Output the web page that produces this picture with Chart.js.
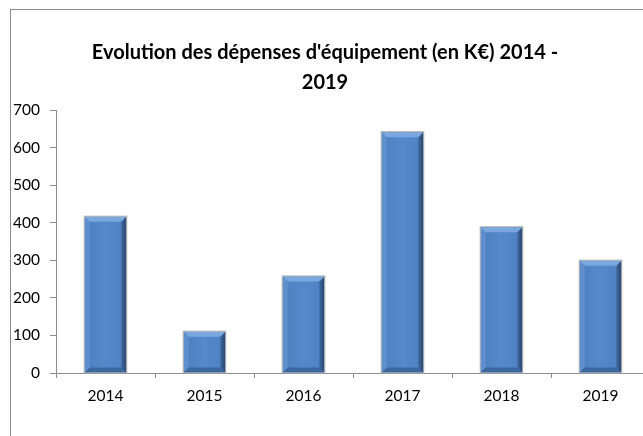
<!DOCTYPE html>
<html>
<head>
<meta charset="utf-8">
<script src="https://cdn.jsdelivr.net/npm/chart.js@4"></script>
<style>
  html, body { margin: 0; padding: 0; background: #fff; overflow: hidden; }
  body { width: 643px; height: 436px; position: relative; }
  #cadre { position: absolute; left: 10px; top: 9px; width: 700px; height: 500px;
           border-left: 1px solid #8c8c8c; border-top: 1px solid #8c8c8c; }
  #zone { position: absolute; left: 0; top: 0; width: 660px; height: 436px; }
</style>
</head>
<body>
<div id="cadre"></div>
<div id="zone"><canvas id="graphique"></canvas></div>
<script>
// Données
const annees = ['2014', '2015', '2016', '2017', '2018', '2019'];
const depenses = [416, 110, 257, 641, 388, 299];
const graduations = [0, 100, 200, 300, 400, 500, 600, 700];
const titre = ["Evolution des dépenses d'équipement (en K€) 2014 -", '2019'];

// Effet biseauté des barres (style Excel)
const biseau = {
    id: 'biseau',
    afterDatasetsDraw(chart) {
        const ctx = chart.ctx;
        chart.getDatasetMeta(0).data.forEach(bar => {
            const g = bar.x - bar.width / 2;
            const d = bar.x + bar.width / 2;
            const h = bar.y;
            const b = bar.base;
            const e = 5;
            ctx.save();
            // fond
            const grad = ctx.createLinearGradient(g, 0, d, 0);
            grad.addColorStop(0, '#4a7fc0');
            grad.addColorStop(0.5, '#5489cb');
            grad.addColorStop(1, '#4c80c2');
            ctx.fillStyle = grad;
            ctx.fillRect(g, h, d - g, b - h);
            // bord gauche clair
            ctx.fillStyle = '#5f8fcd';
            ctx.beginPath();
            ctx.moveTo(g, h); ctx.lineTo(g + e, h + e); ctx.lineTo(g + e, b - e); ctx.lineTo(g, b);
            ctx.closePath(); ctx.fill();
            // bord droit sombre
            const gd = ctx.createLinearGradient(d - e, 0, d, 0);
            gd.addColorStop(0, '#41699f');
            gd.addColorStop(1, '#2a4670');
            ctx.fillStyle = gd;
            ctx.beginPath();
            ctx.moveTo(d, h); ctx.lineTo(d - e, h + e); ctx.lineTo(d - e, b - e); ctx.lineTo(d, b);
            ctx.closePath(); ctx.fill();
            // bas sombre
            ctx.fillStyle = '#3d679f';
            ctx.beginPath();
            ctx.moveTo(g, b); ctx.lineTo(g + e, b - e); ctx.lineTo(d - e, b - e); ctx.lineTo(d, b);
            ctx.closePath(); ctx.fill();
            // haut clair
            ctx.fillStyle = '#7aa7dd';
            ctx.beginPath();
            ctx.moveTo(g, h); ctx.lineTo(d, h); ctx.lineTo(d - e, h + e); ctx.lineTo(g + e, h + e);
            ctx.closePath(); ctx.fill();
            // contour gris (ombre)
            ctx.strokeStyle = '#b0b0b0';
            ctx.lineWidth = 1;
            ctx.strokeRect(g - 0.5, h - 0.5, d - g + 1, b - h + 1);
            ctx.restore();
        });
    }
};

const ctx = document.getElementById('graphique').getContext('2d');
new Chart(ctx, {
    type: 'bar',
    data: {
        labels: annees,
        datasets: [{
            data: depenses,
            backgroundColor: '#4f86c6',
            borderWidth: 0,
            barPercentage: 0.42,
            categoryPercentage: 1
        }]
    },
    options: {
        responsive: true,
        maintainAspectRatio: false,
        animation: false,
        layout: { padding: { left: 0, right: 10, top: 0, bottom: 0 } },
        plugins: {
            legend: { display: false },
            tooltip: { enabled: false },
            title: {
                display: true,
                text: titre,
                color: '#000',
                font: { family: 'Lato', size: 20, weight: 'bold', lineHeight: 1.5 },
                padding: { top: 38, bottom: 12 }
            }
        },
        scales: {
            x: {
                grid: { offset: true, drawOnChartArea: false, tickLength: 5, color: '#8c8c8c' },
                border: { color: '#8c8c8c' },
                ticks: { color: '#000', font: { family: 'Lato', size: 15.5 }, padding: 9 },
                afterFit(scale) { scale.height = 63; }
            },
            y: {
                min: 0,
                max: 700,
                afterBuildTicks(scale) { scale.ticks = graduations.map(v => ({ value: v })); },
                grid: { drawOnChartArea: false, tickLength: 6, color: '#8c8c8c' },
                border: { color: '#8c8c8c' },
                ticks: { color: '#000', font: { family: 'Lato', size: 15.5 }, padding: 10 },
                afterFit(scale) { scale.width = 56; }
            }
        }
    },
    plugins: [biseau]
});
</script>
</body>
</html>
